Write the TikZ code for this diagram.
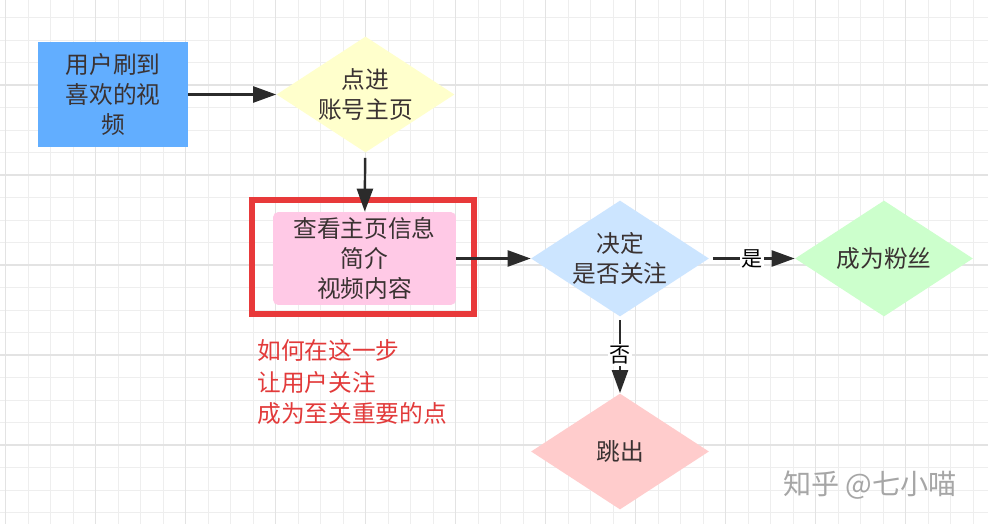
\documentclass[tikz,border=0pt]{standalone}
\usepackage{fontspec}
\setmainfont{Noto Sans CJK SC}
\usepackage{xcolor}
\usepackage{tikz}
\usetikzlibrary{arrows.meta,positioning,shapes.geometric}
\definecolor{inkgray}{HTML}{3A3232}
\definecolor{arrowgray}{HTML}{2B2B2B}
\definecolor{startblue}{HTML}{62AEFF}
\definecolor{stepyellow}{HTML}{FFFFCC}
\definecolor{infopink}{HTML}{FFC9E6}
\definecolor{framered}{HTML}{E8393A}
\definecolor{decblue}{HTML}{CCE5FF}
\definecolor{fangreen}{HTML}{CCFFCC}
\definecolor{exitpink}{HTML}{FFCCCC}
\definecolor{notered}{HTML}{E23A3A}
\definecolor{minorgrid}{HTML}{EEEEEE}
\definecolor{majorgrid}{HTML}{E3E3E3}

\begin{document}
\begin{tikzpicture}[
  x=0.02cm, y=-0.02cm,
  every node/.style={font=\fontsize{13.5}{17}\selectfont, text=inkgray, align=center},
  proc/.style={rectangle, fill=startblue, minimum width=3cm, minimum height=2.1cm, inner sep=0pt},
  infobox/.style={rectangle, rounded corners=3pt, fill=infopink, minimum width=3.66cm, minimum height=1.86cm, inner sep=0pt},
  redframe/.style={rectangle, draw=framered, line width=0.12cm, minimum width=4.44cm, minimum height=2.28cm, inner sep=0pt},
  dec/.style={diamond, aspect=1.55, minimum width=3.56cm, minimum height=2.32cm, inner sep=-2pt},
  arr/.style={-{Triangle[length=4.6mm,width=3.2mm]}, line width=1.4pt, draw=arrowgray},
  lab/.style={fill=white, inner sep=1pt, font=\fontsize{12}{13}\selectfont, text=black},
  notetext/.style={align=left, inner sep=0pt, text=notered, font=\fontsize{13.5}{18}\selectfont},
  stamptext/.style={text=black!35, font=\fontsize{16}{18}\selectfont}
]
  % background and grid
  \useasboundingbox[fill=white] (0,0) rectangle (988,524);
  \foreach \i in {0,...,44}
    \draw[minorgrid, line width=0.5pt] ({5.7+22.5*\i},0) -- ++(0,524);
  \foreach \i in {0,...,23}
    \draw[minorgrid, line width=0.5pt] (0,{17.5+22.5*\i}) -- ++(988,0);
  \foreach \i in {0,...,10}
    \draw[majorgrid, line width=0.6pt] ({5.7+90*\i},0) -- ++(0,524);
  \foreach \i in {0,...,4}
    \draw[majorgrid, line width=0.6pt] (0,{85+90*\i}) -- ++(988,0);

  \node (start) [proc] at (113,94.5) {用户刷到\\喜欢的视\\频};
  \node (visit) [dec, fill=stepyellow] at (365.5,94.5) {点进\\账号主页};
  \node (frame) [redframe] at (363,257) {};
  \node (info) [infobox] at (364.5,258.5) {查看主页信息\\简介\\视频内容};
  \node (decide) [dec, fill=decblue] at (620,258.5) {决定\\是否关注};
  \node (fan) [dec, fill=fangreen] at (884,258.5) {成为粉丝};
  \node (exit) [dec, fill=exitpink] at (620,451.5) {跳出};

  \draw[arr] (start) -- (visit);
  \draw[arr, shorten <=3pt] (visit) -- (info);
  \draw[arr] (info) -- (decide);
  \draw[arr, shorten <=2pt] (decide) -- node[lab] {是} (fan);
  \draw[arr, shorten <=2pt] (decide) -- node[lab] {否} (exit);

  % remark under the red frame
  \node (remark) [notetext, anchor=north west] at (257,339) {如何在这一步\\让用户关注\\成为至关重要的点};
  \node (stamp) [stamptext] at (870,485) {知乎 @七小喵};
\end{tikzpicture}
\end{document}
